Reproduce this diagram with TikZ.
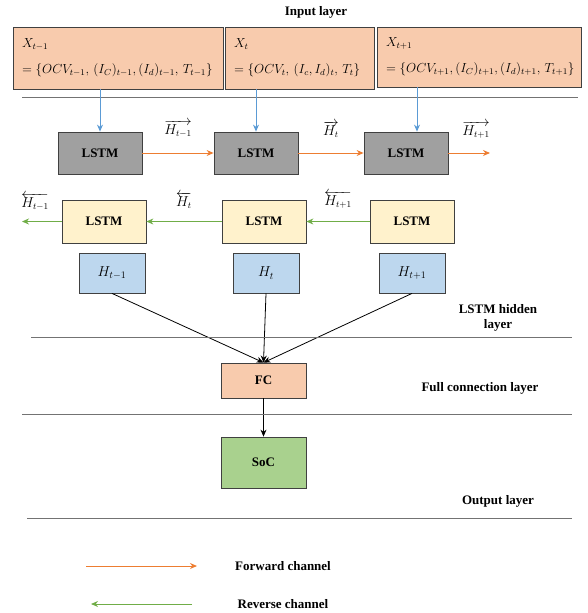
\documentclass[tikz,border=0pt]{standalone}
\usepackage{graphicx}
\usepackage{fontspec}
\setmainfont{Liberation Serif}
\usetikzlibrary{arrows.meta}
\definecolor{inorange}{HTML}{F8CBAD}
\definecolor{lstmgray}{HTML}{A0A0A0}
\definecolor{lstmyellow}{HTML}{FFF2CC}
\definecolor{hidblue}{HTML}{BDD7EE}
\definecolor{socgreen}{HTML}{A9D18E}
\definecolor{fwdorange}{HTML}{ED7D31}
\definecolor{revgreen}{HTML}{70AD47}
\definecolor{inblue}{HTML}{5B9BD5}
\definecolor{boxline}{HTML}{404040}
\newcommand{\inline}[1]{\scalebox{1.09}{$#1$}}
\begin{document}
\begin{tikzpicture}
          [x=1pt,y=-1pt,
          font=\fontsize{13}{15}\selectfont\bfseries,
          box/.style={shape=rectangle,draw=boxline,thick,inner sep=0pt},
          inp/.style={box,fill=inorange,minimum height=62,inner xsep=9pt,align=left,
            font=\fontsize{12}{14}\selectfont},
          lstmf/.style={box,fill=lstmgray,minimum width=84,minimum height=42},
          lstmb/.style={box,fill=lstmyellow,minimum width=84,minimum height=43},
          hid/.style={box,fill=hidblue,minimum width=66,minimum height=40,font=\fontsize{14}{16}\selectfont},
          fcbox/.style={box,fill=inorange,minimum width=85,minimum height=35},
          socbox/.style={box,fill=socgreen,minimum width=85,minimum height=51},
          hlab/.style={text=black,font=\fontsize{13.5}{15}\selectfont},
          sep/.style={draw=black!55,line width=0.9pt},
          inarc/.style={->,>={Stealth[length=7pt,width=6pt]},inblue,line width=1pt},
          fwd/.style={->,>={Stealth[length=7pt,width=6pt]},fwdorange,line width=1pt},
          rev/.style={->,>={Stealth[length=7pt,width=6pt]},revgreen,line width=1pt},
          arc/.style={->,>={Stealth[length=7pt,width=6pt]},line width=0.8pt}]

            \useasboundingbox (0,0) rectangle (587,613);

            % input layer
            \node (title) at (316,12) {Input layer};
            \node (in1) [inp,minimum width=210,text width=192] at (118,58)
              {\inline{X_{t-1}}\\[12pt]\inline{=\{OCV_{t-1},\,(I_C)_{t-1},(I_d)_{t-1},\,T_{t-1}\}}};
            \node (in2) [inp,minimum width=149,text width=131] at (299.5,58)
              {\inline{X_{t}}\\[12pt]\inline{=\{OCV_{t},\,(I_c,I_d)_{t},\,T_{t}\}}};
            \node (in3) [inp,minimum width=204,text width=186,minimum height=60] at (479,57)
              {\inline{X_{t+1}}\\[12pt]\inline{=\{OCV_{t+1},(I_C)_{t+1},(I_d)_{t+1},\,T_{t+1}\}}};
            \draw [sep] (22,97) -- (578,97);

            % forward LSTM
            \node (f1) [lstmf] at (100,153) {LSTM};
            \node (f2) [lstmf] at (256,153) {LSTM};
            \node (f3) [lstmf] at (406,153) {LSTM};
            \coordinate (fend) at (490,153);

            % backward LSTM
            \node (b1) [lstmb] at (104,221.5) {LSTM};
            \node (b2) [lstmb] at (264,221.5) {LSTM};
            \node (b3) [lstmb] at (412,221.5) {LSTM};
            \coordinate (bend) at (22,221.5);

            % hidden outputs
            \node (h1) [hid] at (112,273) {$H_{t-1}$};
            \node (h2) [hid] at (266,273) {$H_{t}$};
            \node (h3) [hid] at (412,273) {$H_{t+1}$};
            \node (fc) [fcbox] at (263.5,380.5) {FC};
            \node (soc) [socbox] at (263.5,462.5) {SoC};

            \draw [inarc] (in1.south -| f1.north) -- (f1.north);
            \draw [inarc] (in2.south -| f2.north) -- (f2.north);
            \draw [inarc] ([xshift=11]f3.north |- in3.south) -- ([xshift=11]f3.north);

            \draw [fwd] (f1) -- node [hlab,above=12pt] {$\overrightarrow{H_{t-1}}$} (f2);
            \draw [fwd] (f2) -- node [hlab,above=12pt] {$\overrightarrow{H_{t}}$} (f3);
            \draw [fwd] (f3) -- (fend);
            \node [hlab] at (476,130) {$\overrightarrow{H_{t+1}}$};

            \draw [rev] (b3) -- node [hlab,above=9pt] {$\overleftarrow{H_{t+1}}$} (b2);
            \draw [rev] (b2) -- node [hlab,above=9pt] {$\overleftarrow{H_{t}}$} (b1);
            \draw [rev] (b1) -- (bend);
            \node [hlab] at (35,202) {$\overleftarrow{H_{t-1}}$};

            \draw [arc] (h1.south) -- (fc.north);
            \draw [arc] (h2.south) -- (fc.north);
            \draw [arc] (h3.south) -- (fc.north);
            \draw [arc] (fc) -- (soc);

            % layer names and separators
            \node (hidlab) [align=center] at (498,318) {LSTM hidden\\layer};
            \draw [sep] (31,337) -- (572,337);
            \node (fclab) at (480,388) {Full connection layer};
            \draw [sep] (22,414) -- (572,414);
            \node (outlab) at (498,501) {Output layer};
            \draw [sep] (27,518) -- (572,518);

            % legend
            \coordinate (fa) at (86,566);
            \coordinate (fb) at (197,566);
            \coordinate (ra) at (192,604);
            \coordinate (rb) at (91,604);
            \draw [fwd] (fa) -- (fb);
            \draw [rev] (ra) -- (rb);
            \node (fwdlab) at (283,566) {Forward channel};
            \node (revlab) at (283,604) {Reverse channel};

        \end{tikzpicture}
\end{document}
